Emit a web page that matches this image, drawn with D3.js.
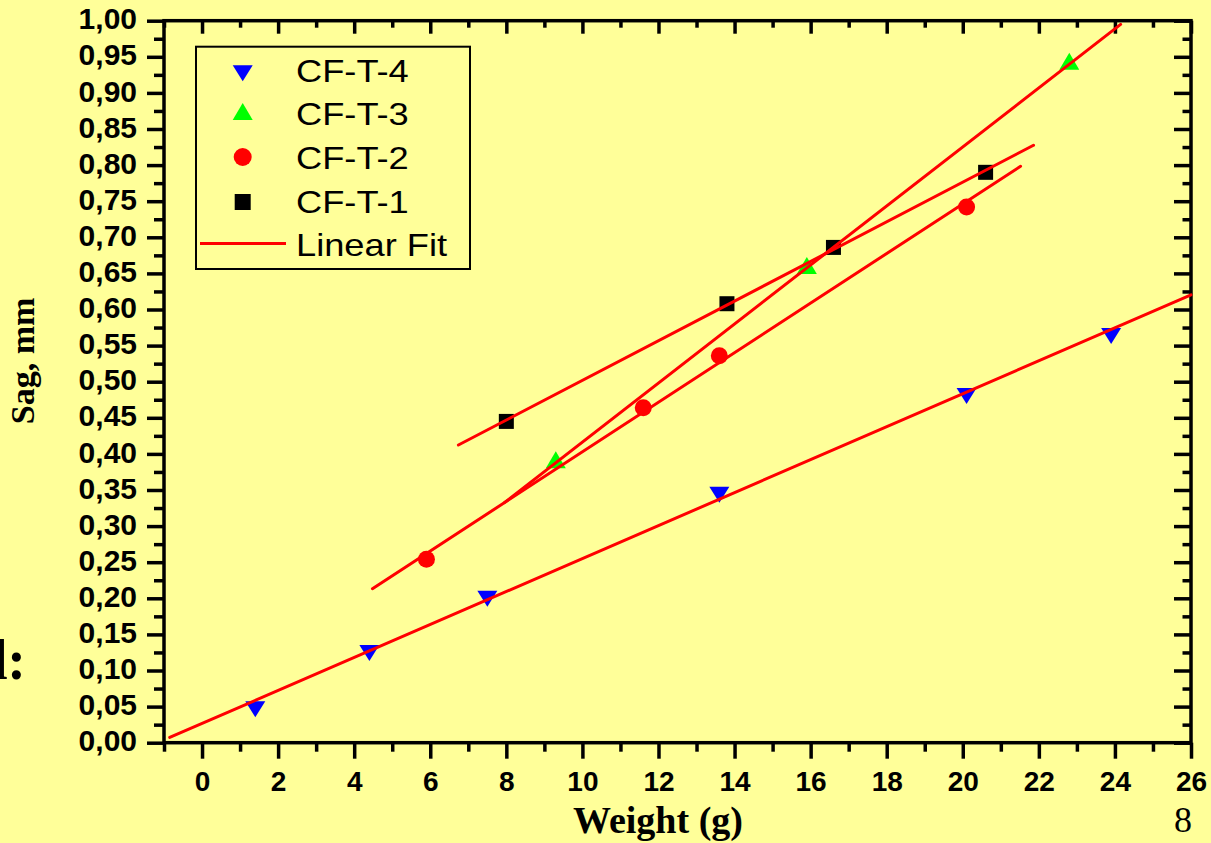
<!DOCTYPE html>
<html>
<head>
<meta charset="utf-8">
<script src="https://cdn.jsdelivr.net/npm/d3@7"></script>
<style>
  html, body { margin: 0; padding: 0; background: #ffff99; }
  svg { display: block; }
</style>
</head>
<body>
<svg id="chart" width="1211" height="843"></svg>
<script>
// ---- data ----
const t4X = [1.4, 4.4, 7.5, 13.6, 20.1, 23.9];
const t4Y = [0.050, 0.128, 0.203, 0.347, 0.484, 0.567];
const t3X = [9.3, 15.9, 22.8];
const t3Y = [0.388, 0.657, 0.940];
const t2X = [5.9, 11.6, 13.6, 20.1];
const t2Y = [0.254, 0.464, 0.536, 0.742];
const t1X = [8.0, 13.8, 16.6, 20.6];
const t1Y = [0.445, 0.608, 0.686, 0.790];

const xMajorTicks = [0, 2, 4, 6, 8, 10, 12, 14, 16, 18, 20, 22, 24, 26];
const xMinorTicks = [-1, 1, 3, 5, 7, 9, 11, 13, 15, 17, 19, 21, 23, 25];
const yMajorTicks = [0.00, 0.05, 0.10, 0.15, 0.20, 0.25, 0.30, 0.35, 0.40, 0.45, 0.50,
                     0.55, 0.60, 0.65, 0.70, 0.75, 0.80, 0.85, 0.90, 0.95, 1.00];
const yMinorTicks = [0.025, 0.075, 0.125, 0.175, 0.225, 0.275, 0.325, 0.375, 0.425, 0.475,
                     0.525, 0.575, 0.625, 0.675, 0.725, 0.775, 0.825, 0.875, 0.925, 0.975];

const legendNames = ["CF-T-4", "CF-T-3", "CF-T-2", "CF-T-1", "Linear Fit"];
const xTitle = "Weight (g)";
const yTitle = "Sag, mm";

// ---- setup ----
const svg = d3.select("#chart");
const L = 164, R = 1191, T = 20.7, B = 742.7;
const x = d3.scaleLinear().domain([-1, 26]).range([L, R]);
const y = d3.scaleLinear().domain([0, 1]).range([B, T]);
const fmt = v => d3.format(".2f")(v).replace(".", ",");

svg.append("rect").attr("width", 1211).attr("height", 843).attr("fill", "#ffff99");

// ---- axes ----
function styleAxis(g) {
  g.select(".domain").remove();
  g.selectAll(".tick line").attr("stroke", "#000").attr("stroke-width", 3.5);
}
const tickFont = "'Liberation Sans', Arial, sans-serif";

// bottom
svg.append("g").attr("transform", `translate(0,${B})`)
  .call(d3.axisBottom(x).tickValues(xMinorTicks).tickSize(9).tickFormat(""))
  .call(styleAxis);
svg.append("g").attr("transform", `translate(0,${B})`)
  .call(d3.axisBottom(x).tickValues(xMajorTicks).tickSize(16).tickPadding(12).tickFormat(d3.format("d")))
  .call(styleAxis)
  .call(g => g.selectAll("text").attr("fill", "#000").style("font-family", tickFont)
    .style("font-weight", "bold").style("font-size", "28px"));
// top
svg.append("g").attr("transform", `translate(0,${T})`)
  .call(d3.axisTop(x).tickValues(xMinorTicks).tickSize(-7).tickFormat(""))
  .call(styleAxis);
svg.append("g").attr("transform", `translate(0,${T})`)
  .call(d3.axisTop(x).tickValues(xMajorTicks).tickSize(-13).tickFormat(""))
  .call(styleAxis);
// left
svg.append("g").attr("transform", `translate(${L},0)`)
  .call(d3.axisLeft(y).tickValues(yMinorTicks).tickSize(10).tickFormat(""))
  .call(styleAxis);
svg.append("g").attr("transform", `translate(${L},0)`)
  .call(d3.axisLeft(y).tickValues(yMajorTicks).tickSize(17).tickPadding(10).tickFormat(fmt))
  .call(styleAxis)
  .call(g => g.selectAll("text").attr("fill", "#000").attr("dy", "0.27em").style("font-family", tickFont)
    .style("font-weight", "bold").style("font-size", "30px"));
// right
svg.append("g").attr("transform", `translate(${R},0)`)
  .call(d3.axisRight(y).tickValues(yMinorTicks).tickSize(-8.5).tickFormat(""))
  .call(styleAxis);
svg.append("g").attr("transform", `translate(${R},0)`)
  .call(d3.axisRight(y).tickValues(yMajorTicks).tickSize(-17).tickFormat(""))
  .call(styleAxis);

// frame
svg.append("rect").attr("x", L).attr("y", T).attr("width", R - L).attr("height", B - T)
  .attr("fill", "none").attr("stroke", "#000").attr("stroke-width", 3.5);

// ---- markers ----
const plot = svg.append("g");
const zip = (xs, ys) => xs.map((v, i) => ({ x: v, y: ys[i] }));

function triDown(cx, cy, w, h) {
  return `M${cx - w / 2},${cy - h / 3}L${cx + w / 2},${cy - h / 3}L${cx},${cy + 2 * h / 3}Z`;
}
function triUp(cx, cy, w, h) {
  return `M${cx - w / 2},${cy + h / 3}L${cx + w / 2},${cy + h / 3}L${cx},${cy - 2 * h / 3}Z`;
}

plot.selectAll(".t4").data(zip(t4X, t4Y)).enter().append("path")
  .attr("d", d => triDown(x(d.x), y(d.y), 20, 16)).attr("fill", "#0000ff");
plot.selectAll(".t3").data(zip(t3X, t3Y)).enter().append("path")
  .attr("d", d => triUp(x(d.x), y(d.y), 20, 17)).attr("fill", "#00ff00");
plot.selectAll(".t2").data(zip(t2X, t2Y)).enter().append("circle")
  .attr("cx", d => x(d.x)).attr("cy", d => y(d.y)).attr("r", 8.5).attr("fill", "#ff0000");
plot.selectAll(".t1").data(zip(t1X, t1Y)).enter().append("rect")
  .attr("x", d => x(d.x) - 7.5).attr("y", d => y(d.y) - 7.5)
  .attr("width", 15).attr("height", 15).attr("fill", "#000");

// ---- linear fits (least squares, range extended by 10%) ----
function fit(xs, ys) {
  const mx = d3.mean(xs), my = d3.mean(ys);
  let sxy = 0, sxx = 0;
  xs.forEach((v, i) => { sxy += (v - mx) * (ys[i] - my); sxx += (v - mx) * (v - mx); });
  const b = sxy / sxx, a = my - b * mx;
  const [lo, hi] = d3.extent(xs);
  const ext = (hi - lo) * 0.1;
  const x0 = Math.max(-1, lo - ext), x1 = Math.min(26, hi + ext);
  return [{ x: x0, y: a + b * x0 }, { x: x1, y: a + b * x1 }];
}
const line = d3.line().x(d => x(d.x)).y(d => y(d.y));
[[t4X, t4Y], [t3X, t3Y], [t2X, t2Y], [t1X, t1Y]].forEach(([xs, ys]) => {
  plot.append("path").datum(fit(xs, ys)).attr("d", line)
    .attr("fill", "none").attr("stroke", "#ff0000").attr("stroke-width", 3)
    .attr("stroke-linecap", "round");
});

// ---- legend ----
const lg = svg.append("g");
lg.append("rect").attr("x", 196).attr("y", 46.7).attr("width", 274).attr("height", 222.3)
  .attr("fill", "#ffff99").attr("stroke", "#000").attr("stroke-width", 2);
const rowY = [70.7, 113.4, 158, 202, 245];
const sx = 242.7;
lg.append("path").attr("d", triDown(sx, rowY[0], 20, 16)).attr("fill", "#0000ff");
lg.append("path").attr("d", triUp(sx, rowY[1] + 1, 20, 17)).attr("fill", "#00ff00");
lg.append("circle").attr("cx", sx).attr("cy", rowY[2] - 1).attr("r", 9).attr("fill", "#ff0000");
lg.append("rect").attr("x", sx - 8).attr("y", rowY[3] - 8).attr("width", 16).attr("height", 16).attr("fill", "#000");
lg.append("line").attr("x1", 200).attr("x2", 286).attr("y1", rowY[4] - 1.5).attr("y2", rowY[4] - 1.5)
  .attr("stroke", "#ff0000").attr("stroke-width", 3);
legendNames.forEach((n, i) => {
  lg.append("text").text(n)
    .attr("transform", `translate(296,${rowY[i] + 11.3}) scale(1.17,1)`)
    .style("font-family", tickFont).style("font-size", "31px").attr("fill", "#000");
});

// ---- titles ----
const serif = "'Liberation Serif', 'Times New Roman', serif";
svg.append("text").text(xTitle).attr("x", 658).attr("y", 832.5).attr("text-anchor", "middle")
  .style("font-family", serif).style("font-weight", "bold").style("font-size", "38px").attr("fill", "#000");
svg.append("text").text(yTitle).attr("transform", "translate(34,361) rotate(-90)").attr("text-anchor", "middle")
  .style("font-family", serif).style("font-weight", "bold").style("font-size", "34px").attr("fill", "#000");

// slide fragments
svg.append("text").text("d:").attr("x", 26).attr("y", 679).attr("text-anchor", "end")
  .style("font-family", serif).style("font-weight", "bold").style("font-size", "56px").attr("fill", "#000");
svg.append("text").text("8").attr("x", 1183).attr("y", 832).attr("text-anchor", "middle")
  .style("font-family", serif).style("font-size", "36px").attr("fill", "#000");
</script>
</body>
</html>
